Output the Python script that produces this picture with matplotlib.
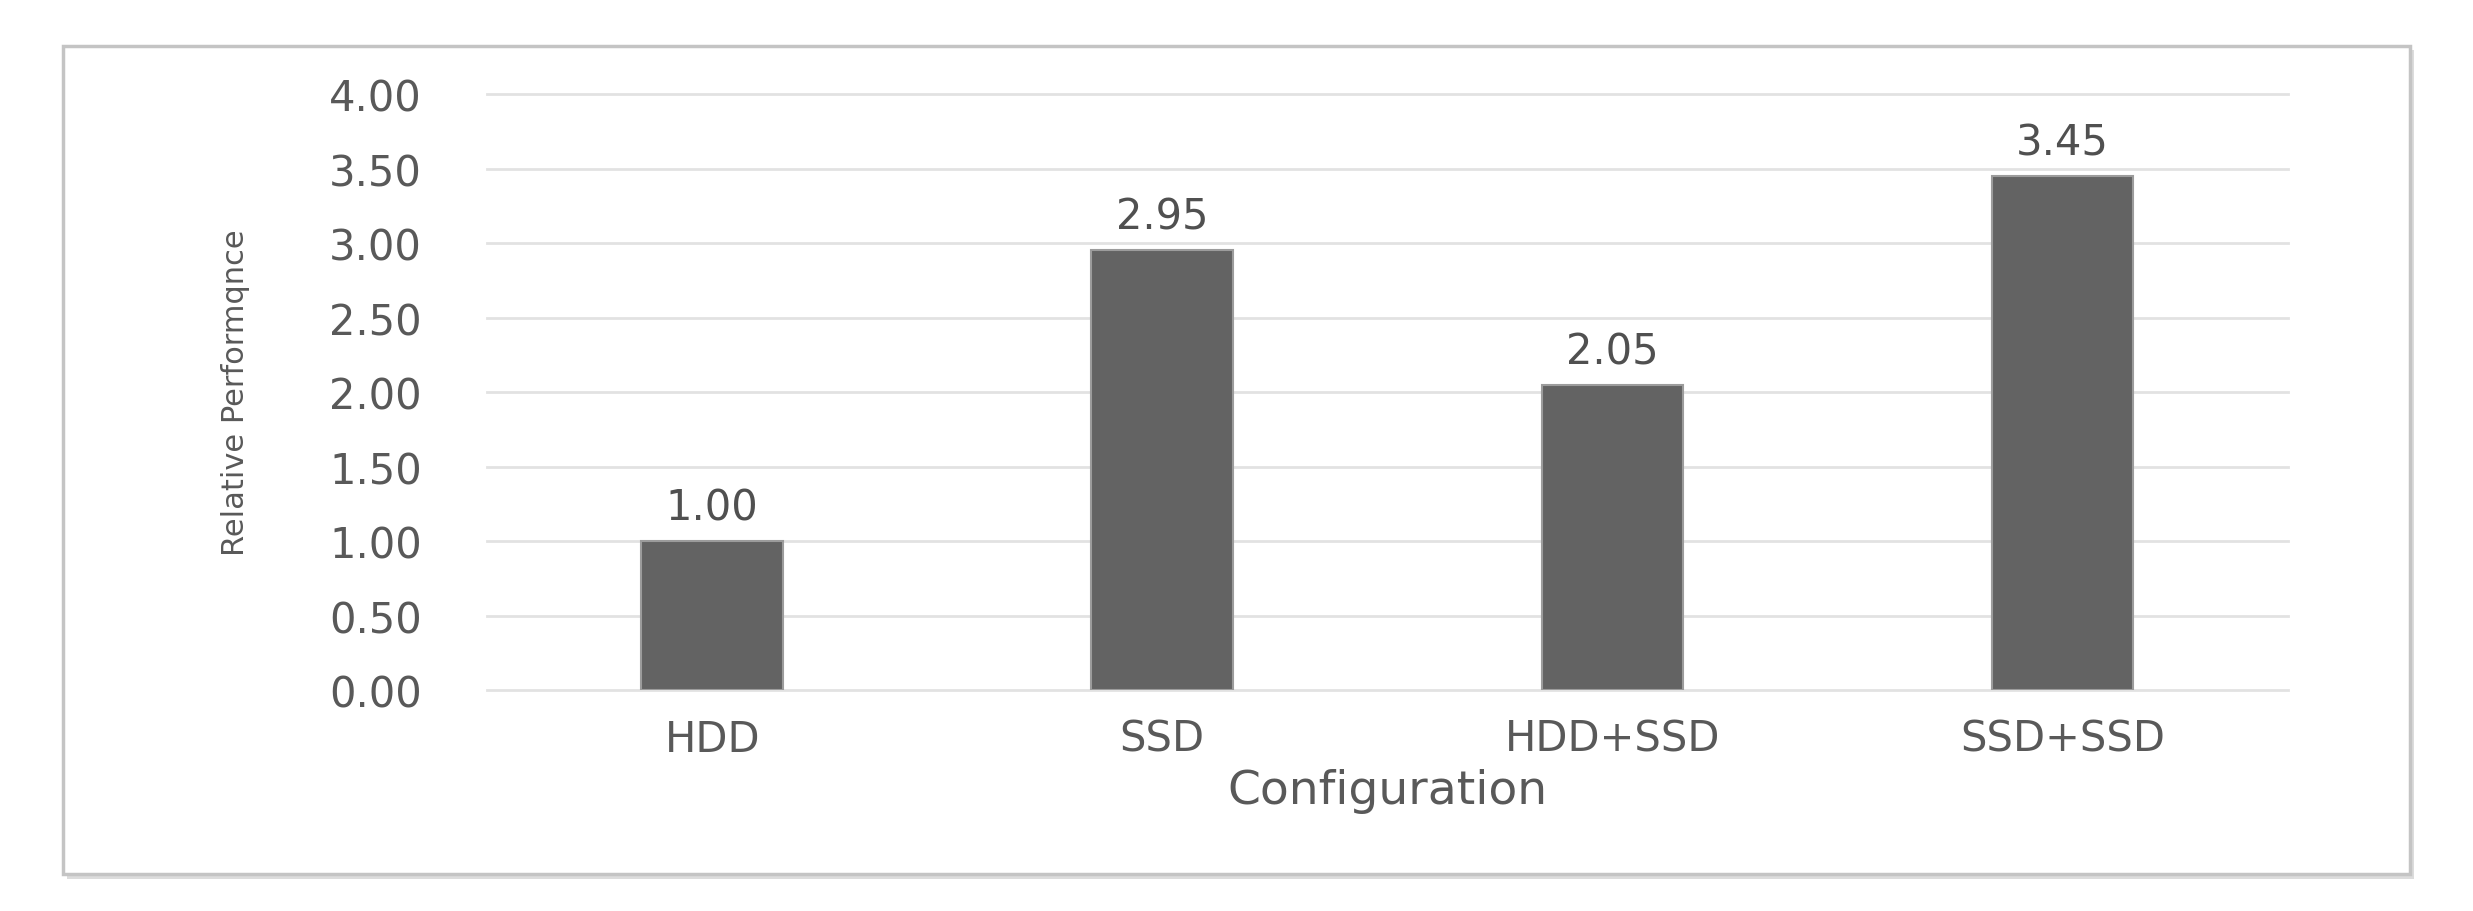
import numpy as np
import matplotlib
matplotlib.use('Agg')
import matplotlib.pyplot as plt
from matplotlib.patches import Rectangle

configs = ['HDD', 'SSD', 'HDD+SSD', 'SSD+SSD']
rel_perf = [1.00, 2.95, 2.05, 3.45]
yticks = [0.0, 0.5, 1.0, 1.5, 2.0, 2.5, 3.0, 3.5, 4.0]

plt.rcParams['font.family'] = ['DejaVu Sans']

fig = plt.figure(figsize=(24.73, 9.12), dpi=100)

# outer chart frame with a soft shadow
fx0, fy0, fw, fh = 0.0255, 0.0406, 0.949, 0.908
shadow = Rectangle((fx0 + 0.0015, fy0 - 0.005), fw, fh, transform=fig.transFigure,
                   facecolor='#dcdcdc', edgecolor='none', zorder=-2)
frame = Rectangle((fx0, fy0), fw, fh, transform=fig.transFigure,
                  facecolor='white', edgecolor='#c4c4c4', lw=2.5, zorder=-1)
fig.patches.extend([shadow, frame])

ax = fig.add_axes([0.197, 0.2423, 0.728, 0.6535])
ax.set_zorder(2)
ax.patch.set_alpha(0)

x = np.arange(len(configs))
ax.bar(x, rel_perf, width=0.315, color='#636363', edgecolor='#9c9c9c', lw=1.5, zorder=3)

for i, v in enumerate(rel_perf):
    ax.annotate('%.2f' % v, (x[i], v), xytext=(0, 9), textcoords='offset points',
                ha='center', va='bottom', fontsize=30, color='#505050')

ax.set_xlim(-0.5, len(configs) - 0.5)
ax.set_ylim(0, 4)
ax.set_yticks(yticks)
ax.set_yticklabels(['%.2f' % t for t in yticks])
ax.set_xticks(x)
ax.set_xticklabels(configs)
ax.yaxis.grid(True, color='#e2e2e2', lw=2)
for gl in ax.get_ygridlines():
    gl.set_clip_on(False)
ax.set_axisbelow(True)
for s in ax.spines.values():
    s.set_visible(False)

ax.tick_params(axis='y', length=0, pad=47, labelsize=30, labelcolor='#595959')
ax.tick_params(axis='x', length=0, pad=20, labelsize=30, labelcolor='#595959')

ax.set_xlabel('Configuration', fontsize=34, color='#595959')
ax.xaxis.set_label_coords(0.5, -0.13)
ax.set_ylabel('Relative Performqnce', fontsize=22, color='#595959', va='center')
ax.yaxis.set_label_coords(-0.14, 0.5)

fig.savefig('out.png', dpi=100)
